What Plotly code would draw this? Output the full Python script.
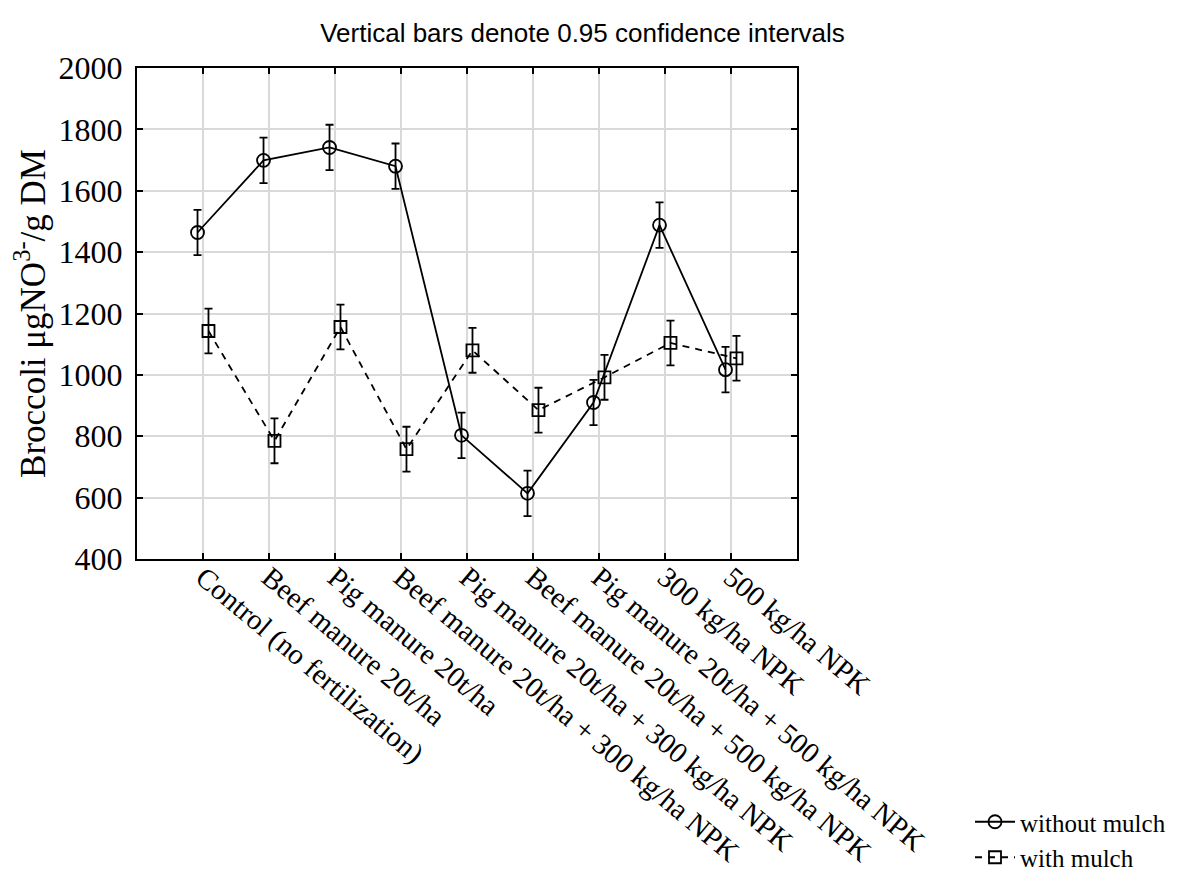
import plotly.graph_objects as go

categories = [
    "Control (no fertilization)",
    "Beef manure 20t/ha",
    "Pig manure 20t/ha",
    "Beef manure 20t/ha + 300 kg/ha NPK",
    "Pig manure 20t/ha + 300 kg/ha NPK",
    "Beef manure 20t/ha + 500 kg/ha NPK",
    "Pig manure 20t/ha + 500 kg/ha NPK",
    "300 kg/ha NPK",
    "500 kg/ha NPK",
]
without_mulch = [1464, 1699, 1741, 1680, 803, 614, 910, 1488, 1017]
with_mulch = [1143, 785, 1156, 758, 1080, 885, 992, 1104, 1054]
ci_without = [74, 74, 74, 74, 74, 74, 74, 74, 74]
ci_with = [73, 73, 73, 73, 73, 73, 73, 73, 73]
y_ticks = [400, 600, 800, 1000, 1200, 1400, 1600, 1800, 2000]

SERIF = "Liberation Serif, Times New Roman, serif"
pos = list(range(1, len(categories) + 1))
off = 0.083

# the page body has an 8px margin: size the figure so the page is exactly the window
W, H = 1169, 867
L, T, PW, PH = 129, 60, 660, 491

fig = go.Figure()
fig.add_trace(go.Scatter(
    x=[p - off for p in pos], y=without_mulch, name="without mulch",
    mode="lines+markers",
    line=dict(color="black", width=1.8),
    marker=dict(symbol="circle-open", size=13, color="black", line=dict(width=1.8, color="black")),
    error_y=dict(type="data", array=ci_without, visible=True, color="black", thickness=1.8, width=4),
))
fig.add_trace(go.Scatter(
    x=[p + off for p in pos], y=with_mulch, name="with mulch",
    mode="lines+markers",
    line=dict(color="black", width=1.8, dash="7px,6px"),
    marker=dict(symbol="square-open", size=12, color="black", line=dict(width=1.8, color="black")),
    error_y=dict(type="data", array=ci_with, visible=True, color="black", thickness=1.8, width=4),
))

axis_common = dict(
    showline=True, linecolor="black", linewidth=2, mirror="allticks",
    ticks="inside", ticklen=6, tickwidth=1.5, tickcolor="black",
    showgrid=True, gridcolor="#d9d9d9", gridwidth=1.5, zeroline=False,
    automargin=False,
)

fig.update_layout(
    width=W, height=H,
    margin=dict(l=L, r=W - L - PW, t=T, b=H - T - PH, autoexpand=False),
    paper_bgcolor="white", plot_bgcolor="white",
    title=dict(text="Vertical bars denote 0.95 confidence intervals",
               x=574.5 / W, xref="container", xanchor="center",
               y=1 - 25 / H, yref="container", yanchor="middle",
               font=dict(family="Liberation Sans, Arial, sans-serif", size=26, color="black")),
    xaxis=dict(range=[0, 10], tickmode="array", tickvals=pos, ticktext=categories,
               tickangle=40, tickfont=dict(family=SERIF, size=29, color="black"),
               ticklabelstandoff=-12,
               **axis_common),
    yaxis=dict(range=[400, 2000], tickmode="array", tickvals=y_ticks,
               tickfont=dict(family=SERIF, size=32, color="black"), ticklabelstandoff=6,
               title=dict(text="Broccoli μgNO<sup>3-</sup>/g DM",
                          font=dict(family=SERIF, size=35, color="black"), standoff=8),
               **axis_common),
    showlegend=True,
    legend=dict(x=(962 - L) / PW, xanchor="left", y=(T + PH - 872) / PH, yanchor="bottom",
                font=dict(family=SERIF, size=25, color="black"),
                bgcolor="rgba(0,0,0,0)", tracegroupgap=0, itemwidth=40),
)

fig.write_html("out.html")
